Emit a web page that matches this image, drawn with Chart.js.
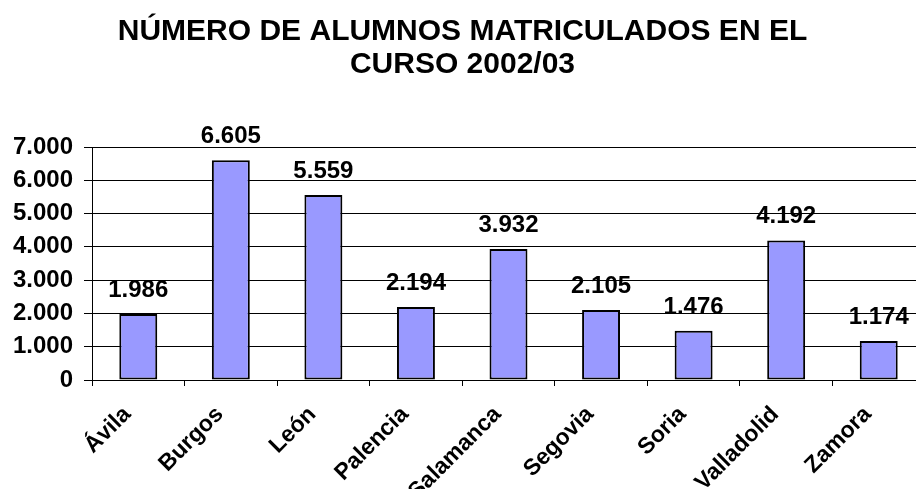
<!DOCTYPE html>
<html>
<head>
<meta charset="utf-8">
<script src="https://cdn.jsdelivr.net/npm/chart.js@4"></script>
<style>
html,body{margin:0;padding:0;background:#fff;overflow:hidden;width:916px;height:489px;}
#wrap{width:925px;height:489px;position:relative;}
</style>
</head>
<body>
<div id="wrap"><canvas id="c" width="925" height="489"></canvas></div>
<script>
const titleLines = ['NÚMERO DE ALUMNOS MATRICULADOS EN EL', 'CURSO 2002/03'];
const categories = ['Ávila', 'Burgos', 'León', 'Palencia', 'Salamanca', 'Segovia', 'Soria', 'Valladolid', 'Zamora'];
const alumnos = [1986, 6605, 5559, 2194, 3932, 2105, 1476, 4192, 1174];
const yTicks = [0, 1000, 2000, 3000, 4000, 5000, 6000, 7000];

const FONT = '"Liberation Sans", Arial, sans-serif';
function fmt(v) { return String(Math.round(v)).replace(/\B(?=(\d{3})+(?!\d))/g, '.'); }

const valueLabels = {
  id: 'valueLabels',
  afterDatasetsDraw(chart) {
    const ctx = chart.ctx;
    const meta = chart.getDatasetMeta(0);
    ctx.save();
    ctx.font = 'bold 24px ' + FONT;
    ctx.fillStyle = '#000';
    ctx.textAlign = 'center';
    ctx.textBaseline = 'alphabetic';
    meta.data.forEach((bar, i) => {
      ctx.fillText(fmt(chart.data.datasets[0].data[i]), bar.x, bar.y - 17);
    });
    ctx.restore();
  }
};

new Chart(document.getElementById('c'), {
  type: 'bar',
  data: {
    labels: categories,
    datasets: [{
      data: alumnos,
      backgroundColor: '#9999FF',
      borderColor: '#000',
      borderWidth: 2,
      borderSkipped: false,
      barPercentage: 0.41,
      categoryPercentage: 1
    }]
  },
  options: {
    responsive: false,
    animation: false,
    layout: { padding: 0 },
    plugins: {
      legend: { display: false },
      tooltip: { enabled: false },
      title: {
        display: true,
        text: titleLines,
        color: '#000',
        font: { family: FONT, size: 30, weight: 'bold', lineHeight: 32.5 / 30 },
        padding: { top: 15.5, bottom: 66.5 }
      }
    },
    scales: {
      x: {
        offset: true,
        grid: { display: true, drawOnChartArea: false, drawTicks: true, tickLength: 6, color: '#000', offset: true },
        border: { display: true, color: '#000', width: 1 },
        ticks: {
          color: '#000',
          font: { family: FONT, size: 23, weight: 'bold' },
          minRotation: 45, maxRotation: 45,
          autoSkip: false,
          padding: 15,
          labelOffset: -11
        },
        afterFit(scale) { scale.height = 109; }
      },
      y: {
        min: 0, max: 7000,
        afterBuildTicks(scale) { scale.ticks = yTicks.map(v => ({ value: v })); },
        grid: { color: '#000', lineWidth: 1, drawTicks: true, tickLength: 8 },
        border: { display: true, color: '#000', width: 1 },
        ticks: {
          color: '#000',
          font: { family: FONT, size: 24, weight: 'bold' },
          padding: 11,
          callback: (v) => fmt(v)
        },
        afterFit(scale) { scale.width = 92; }
      }
    }
  },
  plugins: [valueLabels]
});
</script>
</body>
</html>
